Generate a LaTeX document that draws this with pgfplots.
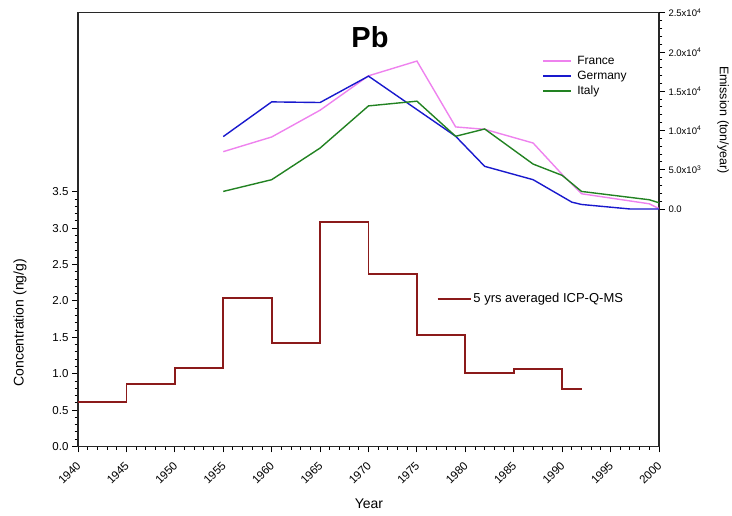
\documentclass[border=0pt]{standalone}
\usepackage{pgfplots}
\pgfplotsset{compat=1.18}
\usepackage{fontspec}
\setmainfont{Liberation Sans}
\definecolor{stepc}{RGB}{139,26,26}
\definecolor{frc}{RGB}{238,130,238}
\definecolor{dec}{RGB}{25,25,205}
\definecolor{itc}{RGB}{34,130,34}
\definecolor{axc}{RGB}{40,40,40}
\begin{document}
\begin{tikzpicture}[x=1pt,y=1pt]
\useasboundingbox (0,0) rectangle (732,516);
\begin{axis}[
 scale only axis, width=581pt, height=433.8pt,
 at={(78pt,69.5pt)}, anchor=south west,
 xmin=1940, xmax=2000, ymin=0, ymax=5.96,
 xtick={1940,1945,...,2000}, minor xtick={1940,1941,...,2000},
 ytick={0,0.5,...,3.5}, minor ytick={0,0.1,...,3.5},
 xtick pos=left, ytick pos=left, tick align=outside,
 major tick length=6pt, minor tick length=3.5pt,
 every tick/.style={black, line width=0.9pt},
 axis line style={line width=1.1pt, axc},
 /pgf/number format/assume math mode=true,
 xticklabel style={font=\fontsize{11.5}{12}\selectfont, xshift=3pt, yshift=-9pt, rotate=45, anchor=east, /pgf/number format/1000 sep={}},
 yticklabel style={font=\fontsize{11.5}{12}\selectfont, /pgf/number format/.cd, fixed, fixed zerofill, precision=1},
 legend style={at={(0.617,0.340)}, anchor=west, draw=none, fill=none, font=\fontsize{13}{15}\selectfont, inner sep=0pt},
 legend image code/.code={\draw[#1] (0pt,0pt) -- (33pt,0pt);},
]
\addplot[const plot, stepc, line width=1.8pt] coordinates {
(1940,0.615) (1945,0.858) (1950,1.074) (1955,2.04) (1960,1.426) (1965,3.088)
(1970,2.365) (1975,1.532) (1980,1.014) (1985,1.065) (1990,0.79) (1992,0.79)};
\addlegendentry{5 yrs averaged ICP-Q-MS}
\end{axis}
\begin{axis}[
 scale only axis, width=581pt, height=433.8pt,
 at={(78pt,69.5pt)}, anchor=south west,
 xmin=1940, xmax=2000, ymin=-30250, ymax=25000,
 hide x axis, axis y line*=right,
 axis line style={line width=1.1pt, axc, -},
 ytick={0,5000,10000,15000,20000,25000},
 yticklabels={0.0, 5.0x10\textsuperscript{3}, 1.0x10\textsuperscript{4}, 1.5x10\textsuperscript{4}, 2.0x10\textsuperscript{4}, 2.5x10\textsuperscript{4}},
 minor ytick={1000,2000,...,24000},
 tick align=outside, major tick length=6pt, minor tick length=3.5pt,
 every tick/.style={black, line width=0.9pt},
 yticklabel style={font=\fontsize{9.5}{10}\selectfont},
 scaled y ticks=false,
 legend cell align=left,
 legend style={at={(0.799,0.906)}, anchor=north west, draw=none, fill=none, font=\fontsize{12}{14}\selectfont, row sep=0pt, inner sep=0pt, nodes={text height=9pt, text depth=3pt, inner sep=1.5pt}, /tikz/every odd column/.append style={column sep=4pt}},
 legend image code/.code={\draw[#1] (0pt,0pt) -- (28pt,0pt);},
]
\addplot[frc, line width=1.4pt] coordinates {
(1955,7300) (1960,9170) (1965,12580) (1970,16960) (1975,18840) (1979,10450)
(1982,10150) (1987,8400) (1990,4400) (1992,1940) (1999,660) (2000,50)};
\addlegendentry{France}
\addplot[dec, line width=1.4pt] coordinates {
(1955,9220) (1960,13640) (1965,13560) (1970,16920) (1979,9260) (1982,5430)
(1987,3730) (1991,870) (1992,575) (1997,0) (2000,0)};
\addlegendentry{Germany}
\addplot[itc, line width=1.4pt] coordinates {
(1955,2235) (1960,3730) (1965,7760) (1970,13130) (1975,13730) (1979,9260)
(1982,10190) (1987,5720) (1990,4280) (1992,2235) (1999,1175) (2000,790)};
\addlegendentry{Italy}
\end{axis}
\node[font=\fontsize{29}{30}\selectfont\bfseries] at (370,479) {Pb};
\node[rotate=90, font=\fontsize{14}{16}\selectfont] at (20,193.2) {Concentration (ng/g)};
\node[font=\fontsize{14}{16}\selectfont] at (369,12) {Year};
\node[rotate=-90, font=\fontsize{12.5}{14}\selectfont] at (723,396) {Emission (ton/year)};
\end{tikzpicture}
\end{document}
